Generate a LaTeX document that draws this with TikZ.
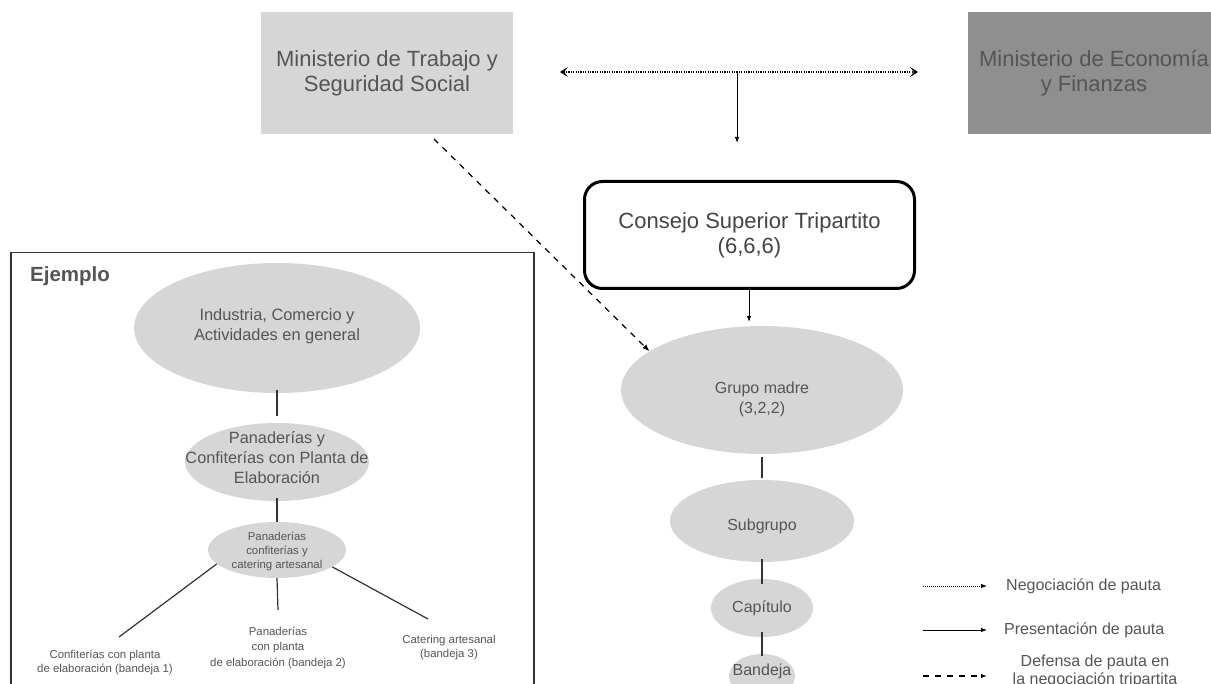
\documentclass[tikz,border=0pt]{standalone}
\usepackage{fontspec}
\setmainfont{Liberation Sans}
\usetikzlibrary{shapes.geometric,arrows.meta}
\definecolor{txt}{HTML}{555555}
\definecolor{lightbox}{HTML}{D6D6D6}
\definecolor{darkbox}{HTML}{8F8F8F}
\definecolor{ellfill}{HTML}{D6D6D6}
\definecolor{framec}{HTML}{333333}
\newcommand\myfs[2]{\fontsize{#1}{#2}\selectfont}
\tikzset{
  mbox/.style={rectangle, minimum width=252pt, minimum height=122pt, inner sep=0pt,
    align=center, text=txt, font=\myfs{22}{25}},
  cstbox/.style={rectangle, rounded corners=18pt, draw=black, line width=3pt,
    minimum width=330pt, minimum height=107pt, align=center, text=txt!80!black,
    font=\myfs{22}{25}},
  ell/.style={ellipse, fill=ellfill, draw=none, inner sep=0pt},
  lbl/.style={align=center, text=txt, font=\myfs{16}{20}, inner sep=0pt},
  slbl/.style={align=center, text=txt, font=\myfs{11.4}{14}, inner sep=0pt},
  leg/.style={text=txt, font=\myfs{16}{18}, inner sep=0pt, align=center},
  conn/.style={draw=framec, line width=1.2pt},
  solidarrow/.style={draw=black, line width=1pt, -{Latex[length=6pt,width=4.5pt]}},
  dottedarrow/.style={draw=black, line width=1.3pt, dash pattern=on 1.2pt off 1.2pt,
    {Stealth[length=8pt,width=10pt,inset=4pt]}-{Stealth[length=8pt,width=10pt,inset=4pt]}},
  dashedarrow/.style={draw=black, line width=1.2pt, dash pattern=on 6pt off 6pt,
    -{Latex[length=7pt,width=5.5pt]}},
  legdotted/.style={draw=black, line width=1pt, dash pattern=on 1pt off 1pt,
    -{Latex[length=6pt,width=4.5pt]}},
  legdashed/.style={draw=black, line width=1.2pt, dash pattern=on 6pt off 6pt,
    -{Latex[length=6pt,width=4.5pt]}},
}
\begin{document}
\begin{tikzpicture}[x=1pt,y=-1pt]
\useasboundingbox (0,0) rectangle (1211,684);
\clip (0,0) rectangle (1211,684);
\fill[white] (0,0) rectangle (1211,684);

% Ministries
\node[mbox, fill=lightbox] (mtss) at (387,73) {Ministerio de Trabajo y\\Seguridad Social};
\node[mbox, fill=darkbox] (mef) at (1094,73) {Ministerio de Economía\\y Finanzas};

% Negotiation arrow
\coordinate (negL) at (560,72);
\coordinate (negR) at (918,72);
\coordinate (negM) at (737,72);
\coordinate (negD) at (737,143);
\draw[dottedarrow] (negL) -- (negR);
\draw[solidarrow] (negM) -- (negD);

% Consejo
\node[cstbox] (cst) at (749.5,235) {Consejo Superior Tripartito\\(6,6,6)};

% Right hierarchy
\node[ell, minimum width=282pt, minimum height=128pt,
  label={[lbl,yshift=-9pt]center:{Grupo madre\\(3,2,2)}}] (gm) at (762,390) {};
\node[ell, minimum width=184pt, minimum height=82pt,
  label={[lbl,yshift=-5pt]center:{Subgrupo}}] (sg) at (762,521) {};
\node[ell, minimum width=102pt, minimum height=58pt,
  label={[lbl]center:{Capítulo}}] (cap) at (762,608) {};
\node[ell, minimum width=66pt, minimum height=44pt,
  label={[lbl,yshift=5pt]center:{Bandeja}}] (band) at (762,676) {};

\coordinate (cstA) at (749,322);
\draw[solidarrow] (cst.south -| cstA) -- (cstA);
\draw[conn] ([yshift=-3pt]gm.south) -- ([yshift=2pt]sg.north);
\draw[conn] ([yshift=3pt]sg.south) -- ([yshift=-5pt]cap.north);
\draw[conn] ([yshift=5pt]cap.south) -- ([yshift=-2pt]band.north);

% Dashed arrow from MTSS to Grupo madre
\coordinate (dstart) at (434,139);
\draw[dashedarrow] (dstart) -- (gm.161);

% Example frame
\node[draw=framec, line width=1.5pt, minimum width=523pt, minimum height=460pt,
  anchor=north west, inner sep=0pt] (ex) at (10,252) {};
\node[anchor=west, text=txt, font=\bfseries\myfs{20.5}{22}, inner sep=0pt] (ejl) at (30,276) {Ejemplo};

\node[ell, minimum width=286pt, minimum height=130pt,
  label={[lbl,font=\myfs{16.4}{20},yshift=2pt]center:{Industria, Comercio y\\Actividades en general}}] (ind) at (277,328) {};
\node[ell, minimum width=184pt, minimum height=78pt,
  label={[lbl,font=\myfs{16.3}{20},yshift=4pt]center:{Panaderías y\\Confiterías con Planta de\\Elaboración}}] (pc) at (277,462) {};
\node[ell, minimum width=138pt, minimum height=56pt,
  label={[slbl,yshift=-1pt]center:{Panaderías\\confiterías y\\catering artesanal}}] (pcc) at (277,550) {};

\draw[conn] ([yshift=3pt]ind.south) -- ([yshift=7pt]pc.north);
\draw[conn] ([yshift=3pt]pc.south) -- (pcc.north);

\node[slbl] (l1) at (105,662) {Confiterías con planta\\de elaboración (bandeja 1)};
\node[slbl, font=\myfs{11.4}{15.5}] (l2) at (278,647.5) {Panaderías\\con planta\\de elaboración (bandeja 2)};
\node[slbl] (l3) at (449,647.5) {Catering artesanal\\(bandeja 3)};

\coordinate (e1) at (119,637);
\coordinate (e2) at (278,610);
\coordinate (e3) at (428,619);
\draw[conn] (pcc.193) -- (e1);
\draw[conn] (pcc.south) -- (e2);
\draw[conn] (pcc.-17) -- (e3);

% Legend
\coordinate (g1a) at (923,586);
\coordinate (g1b) at (987,586);
\coordinate (g2a) at (923,630);
\coordinate (g2b) at (987,630);
\coordinate (g3a) at (923,676);
\coordinate (g3b) at (987,676);
\draw[legdotted] (g1a) -- (g1b);
\draw[solidarrow] (g2a) -- (g2b);
\draw[legdashed] (g3a) -- (g3b);
\node[leg, anchor=west] (t1) at (1006,586) {Negociación de pauta};
\node[leg, anchor=west] (t2) at (1004,630) {Presentación de pauta};
\node[leg, font=\myfs{16}{18}] (t3) at (1095,671) {Defensa de pauta en\\la negociación tripartita};
\end{tikzpicture}
\end{document}
